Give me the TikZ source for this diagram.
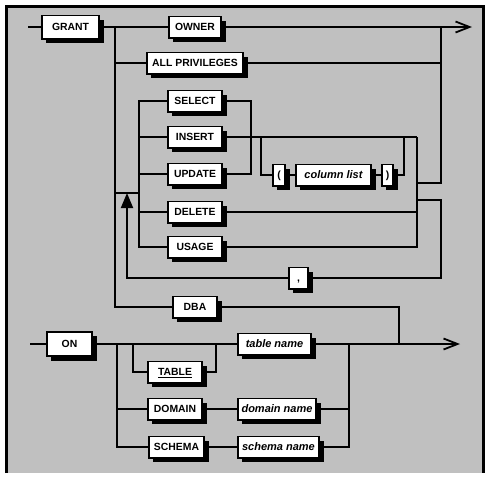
\documentclass[tikz,border=0pt]{standalone}
\usepackage{fontspec}
\setmainfont{Liberation Sans}
\usetikzlibrary{shadows,arrows.meta}
\definecolor{panel}{HTML}{C0C0C0}

\begin{document}
\begin{tikzpicture}[x=1pt,y=-1pt,line width=1.8pt,
  every node/.style={font=\fontsize{10.4pt}{12pt}\selectfont\bfseries,inner sep=0pt},
  kw/.style={draw,fill=white,line width=1.8pt,minimum height=21.2pt,
    text height=7.6pt,text depth=0.6pt,
    general shadow={shadow xshift=4.5pt,shadow yshift=-4.5pt,fill=black}},
  nt/.style={kw,font=\fontsize{11pt}{13pt}\selectfont\bfseries\itshape},
  endarr/.style={-{Straight Barb[length=14pt,width=11pt]}},
  looparr/.style={-{Triangle[length=15pt,width=12pt]}}]
  \useasboundingbox (0,0) rectangle (491,483);
  \fill[white] (0,0) rectangle (491,483);
  \fill[panel] (6,6) rectangle (483.5,473);
  \draw[line width=3pt] (6.5,473) -- (6.5,6.5) -- (483.5,6.5) -- (483.5,473);
  % GRANT part
  \node[kw,minimum width=57.2pt,minimum height=23.2pt] (grant) at (70.5,27) {GRANT};
  \node[kw,minimum width=52.2pt] (owner)   at (195,27)  {OWNER};
  \node[kw,minimum width=96.2pt] (allpriv) at (195,63)  {ALL PRIVILEGES};
  \node[kw,minimum width=54.2pt] (select)  at (195,101) {SELECT};
  \node[kw,minimum width=54.2pt] (insert)  at (195,137) {INSERT};
  \node[kw,minimum width=54.2pt] (update)  at (195,174) {UPDATE};
  \node[kw,minimum width=54.2pt] (delete)  at (195,212) {DELETE};
  \node[kw,minimum width=54.2pt] (usage)   at (195,247) {USAGE};
  \node[kw,minimum width=44.2pt] (dba)     at (195,307) {DBA};
  \node[kw,minimum width=12.2pt] (lp)      at (279,175) {(};
  \node[nt,minimum width=75.2pt] (clist)   at (333.5,175) {column list};
  \node[kw,minimum width=11.2pt] (rp)      at (387.5,175) {)};
  \node[kw,minimum width=19.2pt] (comma)   at (298.5,278) {,};
  \coordinate (in1) at (28,27);
  \coordinate (out1) at (472,27);
  \coordinate (g1) at (115,27);
  \coordinate (g2) at (441,27);
  \coordinate (p0) at (115,193);
  \coordinate (p1) at (139,193);
  \coordinate (p2) at (127,193);
  \coordinate (m1) at (251,137);
  \coordinate (m2) at (417,137);
  \coordinate (c1) at (261,137);
  \coordinate (c2) at (404,137);
  \coordinate (e1) at (417,183);
  \coordinate (l1) at (417,200);
  \coordinate (l2) at (441,278);
  \draw (in1) -- (grant);
  \draw (grant) -- (owner);
  \draw[endarr] (owner) -- (out1);
  \draw (g1) |- (allpriv);
  \draw (g1) |- (dba);
  \draw (allpriv) -| (g2);
  \draw (p0) -- (p1);
  \foreach \p in {select,insert,update,delete,usage} \draw (p1) |- (\p);
  \draw (select) -| (m1);
  \draw (update) -| (m1);
  \draw (insert) -- (m2);
  \draw (c1) |- (lp);
  \draw (lp) -- (clist);
  \draw (clist) -- (rp);
  \draw (rp) -| (c2);
  \draw (delete) -| (m2);
  \draw (usage) -| (m2);
  \draw (e1) -| (g2);
  \draw (l1) -| (l2) -- (comma);
  \draw[looparr] (comma) -| (p2);
  % ON part
  \node[kw,minimum width=45.2pt,minimum height=24.2pt] (on) at (69.5,344) {ON};
  \node[kw,minimum width=54.2pt] (table)  at (175,372)   {\underline{TABLE}};
  \node[kw,minimum width=54.2pt] (domain) at (175,409)   {DOMAIN};
  \node[kw,minimum width=55.2pt] (schema) at (176.5,447) {SCHEMA};
  \node[nt,minimum width=73.2pt] (tname)  at (274.5,344) {table name};
  \node[nt,minimum width=78.2pt] (dname)  at (277,409)   {domain name};
  \node[nt,minimum width=81.2pt] (sname)  at (278.5,447) {schema name};
  \coordinate (in2) at (30,344);
  \coordinate (out2) at (460,344);
  \coordinate (o1) at (117,344);
  \coordinate (t1) at (133,344);
  \coordinate (t2) at (216,344);
  \coordinate (o2) at (349,344);
  \coordinate (d1) at (399,344);
  \draw (in2) -- (on);
  \draw (on) -- (tname);
  \draw[endarr] (tname) -- (out2);
  \draw (o1) |- (domain);
  \draw (o1) |- (schema);
  \draw (t1) |- (table) -| (t2);
  \draw (domain) -- (dname);
  \draw (schema) -- (sname);
  \draw (dname) -| (o2);
  \draw (sname) -| (o2);
  \draw (dba) -| (d1);
\end{tikzpicture}
\end{document}
